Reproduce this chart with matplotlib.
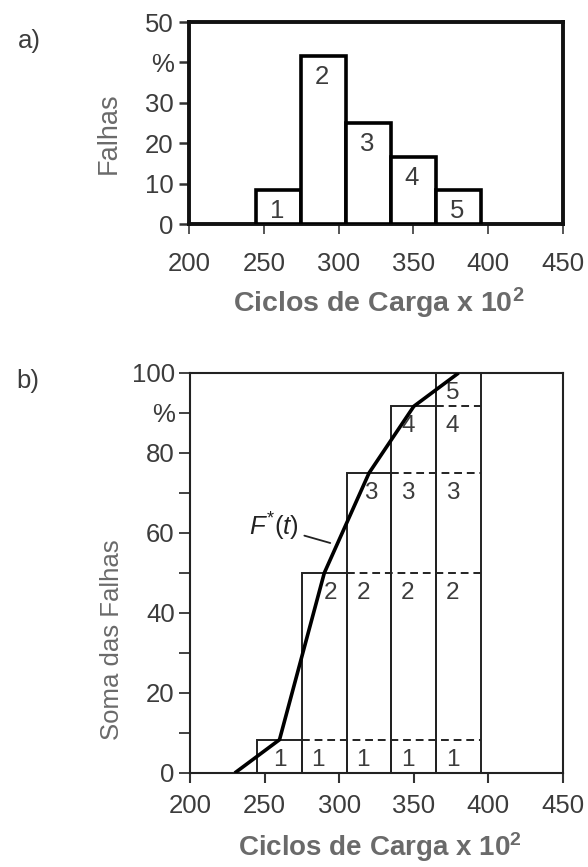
import numpy as np
import matplotlib
matplotlib.use("Agg")
import matplotlib.pyplot as plt
from matplotlib.transforms import offset_copy

plt.rcParams['font.family'] = ['Liberation Sans', 'DejaVu Sans']
plt.rcParams['mathtext.fontset'] = 'custom'
plt.rcParams['mathtext.rm'] = 'Liberation Sans'
plt.rcParams['mathtext.it'] = 'Liberation Sans:italic'
plt.rcParams['mathtext.default'] = 'regular'

# data
bin_left = [245, 275, 305, 335, 365]
bin_width = 30
class_labels = ['1', '2', '3', '4', '5']
fail_pct = [8.33, 41.67, 25.0, 16.67, 8.33]
cum_pct = [8.33, 50.0, 75.0, 91.67, 100.0]
curve_x = [230, 260, 290, 320, 350, 380]
curve_y = [0.0, 8.33, 50.0, 75.0, 91.67, 100.0]

x_ticks = [200, 250, 300, 350, 400, 450]
top_yticks = [0, 10, 20, 30, 40, 50]
top_ylabels = ['0', '10', '20', '30', '%', '50']
bot_yticks = [0, 10, 20, 30, 40, 50, 60, 70, 80, 90, 100]
bot_ylabels = ['0', '', '20', '', '40', '', '60', '', '80', '%', '100']

TXT = '#3c3c3c'
LBL = '#6a6a6a'
FS = 18.5
XL = r'Ciclos de Carga x 10$^{2}$'

fig = plt.figure(figsize=(5.88, 8.67), dpi=100)

# ---------- a) histogram ----------
ax1 = fig.add_axes([189 / 588, 1 - 224 / 867, 374 / 588, 202 / 867])
ax1.bar(bin_left, fail_pct, width=bin_width, align='edge',
        facecolor='white', edgecolor='black', linewidth=2.6, zorder=3)
for i, h in enumerate(fail_pct):
    ax1.text(bin_left[i] + bin_width / 2 - 1, h - 5.2, class_labels[i],
             ha='center', va='center', fontsize=FS, color=TXT, zorder=4)
ax1.set_xlim(200, 450)
ax1.set_ylim(0, 50)
ax1.set_xticks(x_ticks)
ax1.set_xticklabels([str(t) for t in x_ticks])
ax1.set_yticks(top_yticks)
ax1.set_yticklabels(top_ylabels)
for s in ax1.spines.values():
    s.set_linewidth(2.8)
    s.set_color('#111111')
ax1.tick_params(axis='x', direction='out', length=7, width=1.4, color='#555555',
                labelsize=FS, labelcolor=TXT, pad=13)
ax1.tick_params(axis='y', direction='out', length=7, width=1.8, color='#333333',
                labelsize=FS, labelcolor=TXT, pad=4)
ax1.text(-0.214, 0.45, 'Falhas', transform=ax1.transAxes, rotation=90,
         ha='center', va='center', rotation_mode='anchor',
         fontsize=FS + 1, color=LBL)
ax1.text(0.508, -0.436, XL, transform=ax1.transAxes,
         ha='center', va='baseline', fontsize=20.5, fontweight='bold', color=LBL)

# ---------- b) cumulative ----------
ax2 = fig.add_axes([190 / 588, 1 - 773 / 867, 373 / 588, 400 / 867])
ax2.bar(bin_left, cum_pct, width=bin_width, align='edge', fill=False,
        edgecolor='#222222', linewidth=1.4, zorder=2)
right_end = bin_left[-1] + bin_width
for j in range(len(cum_pct) - 1):
    ax2.hlines(cum_pct[j], bin_left[j + 1], right_end, colors='#222222',
               linestyles=(0, (4, 2.5)), linewidth=1.4, zorder=2)

# segment labels, nudged a little where the curve passes
nudge = {(0, 0): 0, (1, 1): 4, (2, 2): 1}
tr = offset_copy(ax2.transData, fig=fig, x=0, y=-14.5, units='points')
for i in range(len(bin_left)):
    for j in range(i + 1):
        dx = nudge.get((i, j), -4)
        cx = bin_left[i] + bin_width / 2 + dx
        ax2.text(cx, cum_pct[j], class_labels[j], transform=tr,
                 ha='center', va='center', fontsize=FS - 1, color=TXT, zorder=4)

ax2.plot(curve_x, curve_y, color='black', linewidth=2.6, zorder=5,
         solid_capstyle='butt')
ax2.annotate(r'$\mathit{F}^{*}(\mathit{t})$', xy=(294, 57.5), xytext=(273, 61.5),
             ha='right', va='center', fontsize=FS, color='#222222',
             arrowprops=dict(arrowstyle='-', color='#222222', lw=1.3,
                             shrinkA=2, shrinkB=0))

ax2.set_xlim(200, 450)
ax2.set_ylim(0, 100)
ax2.set_xticks(x_ticks)
ax2.set_xticklabels([str(t) for t in x_ticks])
ax2.set_yticks(bot_yticks)
ax2.set_yticklabels(bot_ylabels)
for s in ax2.spines.values():
    s.set_linewidth(1.5)
    s.set_color('#222222')
ax2.tick_params(axis='x', direction='out', length=7, width=1.5, color='#333333',
                labelsize=FS, labelcolor=TXT, pad=8)
ax2.tick_params(axis='y', direction='out', length=8, width=1.3, color='#333333',
                labelsize=FS, labelcolor=TXT, pad=3)
ax2.text(-0.209, 0.333, 'Soma das Falhas', transform=ax2.transAxes, rotation=90,
         ha='center', va='center', rotation_mode='anchor',
         fontsize=FS, color=LBL)
ax2.text(0.509, -0.208, XL, transform=ax2.transAxes,
         ha='center', va='baseline', fontsize=20, fontweight='bold', color=LBL)

fig.text(29 / 588, 1 - 41 / 867, 'a)', ha='center', va='center',
         fontsize=FS, color=TXT)
fig.text(28 / 588, 1 - 381 / 867, 'b)', ha='center', va='center',
         fontsize=FS, color=TXT)

fig.savefig('out.png', dpi=100)
